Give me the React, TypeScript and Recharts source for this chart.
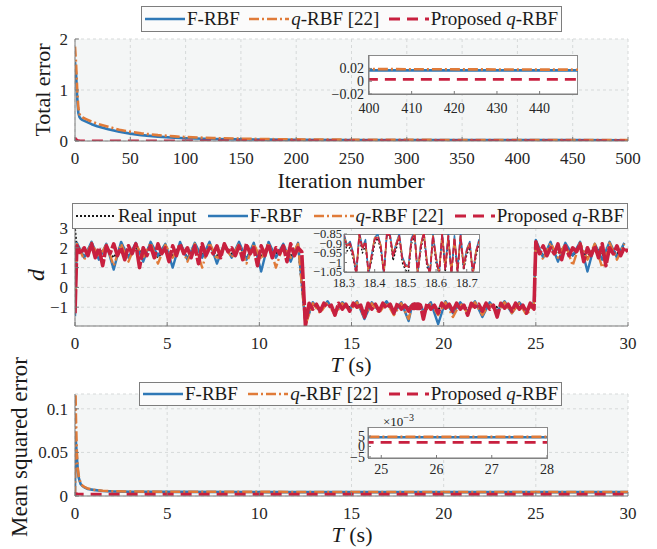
import React from "react"
import { LineChart, Line, XAxis, YAxis, CartesianGrid } from "recharts"

const SERIF = "'Liberation Serif', 'Times New Roman', Times, 'DejaVu Serif', 'Noto Serif', serif"
const AXIS = "#7a7a7a"
const BLUE = "#2f78b6"
const ORANGE = "#e07b39"
const RED = "#c8203f"
const BLACK = "#151515"

// ---- panel 1: total error vs iteration ----
const iterations = [0, 1, 2, 3, 4, 5, 7, 10, 15, 20, 30, 40, 50, 60, 75, 90, 100, 125, 150, 175, 200, 250, 300, 350, 400, 450, 500]
const errFRBF = [1.55, 1.3, 0.85, 0.55, 0.47, 0.44, 0.41, 0.38, 0.33, 0.29, 0.23, 0.18, 0.145, 0.115, 0.085, 0.065, 0.055, 0.04, 0.031, 0.026, 0.023, 0.02, 0.019, 0.018, 0.017, 0.017, 0.016]
const errQRBF = [1.85, 1.5, 1.0, 0.65, 0.53, 0.49, 0.46, 0.43, 0.38, 0.34, 0.28, 0.22, 0.18, 0.15, 0.115, 0.09, 0.078, 0.057, 0.045, 0.037, 0.031, 0.025, 0.022, 0.02, 0.019, 0.018, 0.018]
const errProposed = [0.06, 0.03, 0.015, 0.008, 0.005, 0.004, 0.003, 0.003, 0.003, 0.003, 0.003, 0.003, 0.003, 0.003, 0.003, 0.003, 0.003, 0.003, 0.003, 0.003, 0.003, 0.003, 0.003, 0.003, 0.003, 0.003, 0.003]
const iterTicks = [0, 50, 100, 150, 200, 250, 300, 350, 400, 450, 500]
const errTicks = [0, 1, 2]
const errZoomXTicks = [400, 410, 420, 430, 440]
const errZoomYTicks = [-0.02, 0, 0.02]

// ---- panel 2: estimated disturbance d ----
// value at t = 0: real input, F-RBF, q-RBF, proposed
const dAtZero = [2.95, -1.45, -1.2, -1.3]
// segments start at 0.1 s, 12.5 s and 25 s; proposed sampled every 0.2 s, the others every 0.4 s
const dProposed1 = [2.1, 1.7, 2.0, 1.6, 2.2, 1.5, 2.0, 1.1, 2.1, 1.7, 2.2, 1.6, 2.0, 1.4, 2.1, 1.7, 2.2, 1.0, 2.0, 1.6, 2.1, 1.5, 2.2, 1.7, 2.0, 1.3, 2.1, 1.6, 2.2, 1.7, 2.0, 1.5, 2.1, 1.2, 2.2, 1.6, 2.0, 1.7, 2.1, 1.5, 2.2, 1.8, 2.0, 1.6, 2.1, 1.4, 2.2, 1.7, 2.0, 1.1, 2.1, 1.6, 2.2, 1.5, 2.0, 1.7, 2.1, 1.3, 2.2, 1.6, 2.0, 1.8]
const dProposed2 = [-1.95, -0.8, -1.1, -0.85, -1.2, -0.8, -1.0, -0.9, -1.4, -0.8, -1.1, -0.85, -1.2, -0.8, -1.0, -0.9, -1.5, -0.8, -1.1, -0.85, -1.2, -0.8, -1.05, -0.85, -1.3, -0.8, -1.1, -0.9, -1.2, -0.8, -1.0, -0.85, -1.6, -0.8, -1.1, -0.9, -1.3, -0.8, -1.05, -0.85, -1.2, -0.8, -1.1, -0.9, -1.4, -0.8, -1.0, -0.85, -1.2, -0.8, -1.1, -0.9, -1.5, -0.8, -1.05, -0.85, -1.2, -0.8, -1.1, -0.9, -1.3, -0.8, -1.1]
const dProposed3 = [2.3, 1.7, 2.1, 1.6, 2.0, 1.7, 2.2, 1.4, 2.1, 1.6, 2.0, 1.8, 2.2, 1.3, 2.0, 1.6, 2.1, 1.5, 2.2, 1.1, 2.0, 1.7, 2.1, 1.6, 2.0, 1.8]
const dFRBF1 = [2.25, 1.5, 2.3, 1.4, 2.2, 0.9, 2.3, 1.5, 2.25, 1.3, 2.3, 1.6, 2.2, 1.0, 2.3, 1.4, 2.25, 1.5, 2.3, 1.2, 2.2, 1.5, 2.3, 1.4, 2.25, 0.8, 2.3, 1.5, 2.2, 1.3, 2.25]
const dFRBF2 = [-1.8, -0.75, -1.2, -0.7, -1.3, -0.75, -1.1, -0.7, -1.6, -0.75, -1.2, -0.7, -1.3, -0.75, -1.7, -0.7, -1.2, -0.75, -1.85, -0.7, -1.3, -0.75, -1.2, -0.7, -1.5, -0.75, -1.2, -0.7, -1.3, -0.75, -1.2, -0.75]
const dFRBF3 = [2.4, 1.5, 2.3, 1.3, 2.25, 1.6, 2.3, 0.8, 2.2, 1.4, 2.3, 1.5, 2.25]
const dQRBF1 = [2.2, 1.4, 2.25, 1.5, 2.15, 1.1, 2.2, 1.3, 2.2, 1.5, 2.25, 1.2, 2.15, 1.5, 2.2, 1.3, 2.2, 1.0, 2.25, 1.4, 2.15, 1.5, 2.2, 1.2, 2.2, 1.4, 2.25, 1.0, 2.15, 1.5, 2.2]
const dQRBF2 = [-1.9, -0.8, -1.3, -0.75, -1.4, -0.8, -1.2, -0.75, -1.5, -0.8, -1.3, -0.75, -1.4, -0.8, -1.6, -0.75, -1.3, -0.8, -1.4, -0.75, -1.5, -0.8, -1.3, -0.75, -1.4, -0.8, -1.3, -0.75, -1.3, -0.8, -1.4, -0.8]
const dQRBF3 = [2.3, 1.4, 2.25, 1.5, 2.2, 1.1, 2.25, 1.4, 2.2, 1.0, 2.25, 1.4, 2.2]
const dReal1 = [2.0, 1.6, 2.1, 1.7, 2.0, 1.5, 2.1, 1.6, 2.0, 1.7, 2.1, 1.5, 2.0, 1.6, 2.1, 1.5, 2.0, 1.7, 2.1, 1.6, 2.0, 1.7, 2.1, 1.5, 2.0, 1.6, 2.1, 1.7, 2.0, 1.6, 2.1]
const dReal2 = [-1.8, -0.85, -1.1, -0.8, -1.2, -0.85, -1.0, -0.8, -1.2, -0.85, -1.1, -0.8, -1.2, -0.85, -1.0, -0.8, -1.3, -0.85, -1.1, -0.8, -1.2, -0.85, -1.1, -0.8, -1.2, -0.85, -1.0, -0.8, -1.2, -0.85, -1.1, -0.8]
const dReal3 = [2.1, 1.6, 2.0, 1.7, 2.1, 1.6, 2.0, 1.5, 2.1, 1.6, 2.0, 1.7, 2.1]
// fine samples (every 0.01 s) over the zoomed window 18.30 .. 18.74 s
const fineProposed = [-0.86, -0.92, -0.90, -0.96, -1.06, -0.85, -0.93, -0.89, -1.06, -0.97, -0.88, -0.86, -0.92, -1.06, -0.84, -0.86, -0.97, -0.91, -0.86, -0.98, -1.02, -1.03, -0.88, -0.85, -1.06, -0.92, -0.84, -1.00, -1.06, -0.86, -0.98, -1.06, -0.85, -1.04, -0.86, -1.06, -0.87, -1.05, -0.86, -1.03, -0.94, -0.90, -1.06, -0.95, -0.89]
const fineFRBF = [-0.85, -0.91, -0.89, -0.95, -1.06, -0.84, -0.92, -0.88, -1.06, -0.96, -0.87, -0.85, -0.91, -1.06, -0.84, -0.85, -0.96, -0.90, -0.85, -0.97, -1.01, -1.02, -0.87, -0.84, -1.06, -0.91, -0.84, -0.99, -1.06, -0.85, -0.97, -1.06, -0.84, -1.03, -0.85, -1.06, -0.86, -1.04, -0.85, -1.02, -0.93, -0.89, -1.06, -0.94, -0.88]
const fineQRBF = [-0.86, -0.91, -0.90, -0.95, -1.06, -0.85, -0.92, -0.89, -1.06, -0.96, -0.87, -0.86, -0.91, -1.06, -0.84, -0.86, -0.96, -0.90, -0.86, -0.97, -1.02, -1.02, -0.88, -0.85, -1.06, -0.91, -0.84, -0.99, -1.06, -0.86, -0.97, -1.06, -0.85, -1.03, -0.86, -1.06, -0.87, -1.04, -0.86, -1.02, -0.93, -0.90, -1.06, -0.94, -0.89]
const fineReal = [-0.87, -0.94, -0.92, -0.98, -1.06, -0.86, -0.95, -0.91, -1.06, -0.99, -0.90, -0.87, -0.94, -1.06, -0.85, -0.87, -0.99, -0.93, -0.87, -1.00, -1.04, -1.05, -0.90, -0.86, -1.06, -0.94, -0.85, -1.02, -1.06, -0.87, -1.00, -1.06, -0.86, -1.05, -0.87, -1.06, -0.88, -1.06, -0.87, -1.04, -0.96, -0.92, -1.06, -0.97, -0.90]
const timeTicks = [0, 5, 10, 15, 20, 25, 30]
const dTicks = [-1, 0, 1, 2, 3]
const dZoomXTicks = [18.3, 18.4, 18.5, 18.6, 18.7]
const dZoomYTicks = [-1.05, -1, -0.95, -0.9, -0.85]

// ---- panel 3: mean squared error ----
const mseTime = [0, 0.02, 0.05, 0.1, 0.15, 0.2, 0.3, 0.4, 0.5, 0.7, 1, 1.5, 2, 3, 5, 10, 15, 20, 25, 26, 27, 28, 30]
const mseFRBF = [0, 0.07, 0.062, 0.045, 0.03, 0.021, 0.014, 0.0115, 0.01, 0.008, 0.007, 0.0058, 0.0053, 0.0049, 0.0047, 0.0045, 0.0044, 0.0044, 0.0044, 0.0044, 0.0044, 0.0044, 0.0044]
const mseQRBF = [0, 0.13, 0.09, 0.05, 0.032, 0.023, 0.015, 0.012, 0.0105, 0.0085, 0.0072, 0.006, 0.0055, 0.0051, 0.0049, 0.0047, 0.0046, 0.0046, 0.0046, 0.0046, 0.0046, 0.0046, 0.0046]
const mseProposed = [0, 0.003, 0.0028, 0.0025, 0.0023, 0.0022, 0.0021, 0.002, 0.002, 0.002, 0.002, 0.002, 0.002, 0.002, 0.002, 0.002, 0.002, 0.002, 0.002, 0.002, 0.002, 0.002, 0.002]
const mseTicks = [0, 0.05, 0.1]
const mseZoomXTicks = [25, 26, 27, 28]
const mseZoomYTicks = [-0.005, 0, 0.005]

type Pt = { t: number; v: number }
const pts = (xs: number[], ys: number[]): Pt[] => xs.map((t, i) => ({ t, v: ys[i] }))
const seg = (start: number, step: number, ys: number[]): Pt[] =>
  ys.map((v, i) => ({ t: Math.round((start + i * step) * 100) / 100, v }))
const ZOOM_FROM = 18.3
const ZOOM_TO = 18.74
const dSeries = (v0: number, a: number[], b: number[], c: number[], step: number, fine: number[]) => {
  const coarse = [{ t: 0, v: v0 }, ...seg(0.1, step, a), ...seg(12.5, step, b), ...seg(25, step, c)].filter(
    (p) => p.t < ZOOM_FROM || p.t > ZOOM_TO
  )
  return [...coarse, ...seg(ZOOM_FROM, 0.01, fine)].sort((p, q) => p.t - q.t)
}

const err = {
  f: pts(iterations, errFRBF),
  q: pts(iterations, errQRBF),
  p: pts(iterations, errProposed),
}
const dist = {
  r: dSeries(dAtZero[0], dReal1, dReal2, dReal3, 0.4, fineReal),
  f: dSeries(dAtZero[1], dFRBF1, dFRBF2, dFRBF3, 0.4, fineFRBF),
  q: dSeries(dAtZero[2], dQRBF1, dQRBF2, dQRBF3, 0.4, fineQRBF),
  p: dSeries(dAtZero[3], dProposed1, dProposed2, dProposed3, 0.2, fineProposed),
}
const mse = {
  f: pts(mseTime, mseFRBF),
  q: pts(mseTime, mseQRBF),
  p: pts(mseTime, mseProposed),
}

const STYLE = {
  real: { color: BLACK, dash: "2 2", width: 2 },
  f: { color: BLUE, dash: undefined, width: 2.6 },
  q: { color: ORANGE, dash: "10 3 2 3", width: 2.6 },
  p: { color: RED, dash: "11 7", width: 2.8 },
}
const LABEL_F = "F-RBF"
const LABEL_REAL = "Real input"

const minus = (v: number) => String(v).replace("-", "\u2212")

type Series = { data: Pt[]; color: string; dash?: string; width: number }
type PlotProps = {
  left: number
  top: number
  width: number
  height: number
  mt: number
  mr: number
  yWidth: number
  plotH: number
  xDomain: [number, number]
  xTicks: number[]
  yDomain: [number, number]
  yTicks: number[]
  series: Series[]
  font: number
  tick: number
  xGap: number
  yGap: number
  grid?: boolean
  yFormat?: (v: number) => string
}

function Plot(p: PlotProps) {
  const xH = p.height - p.mt - p.plotH
  const tickStyle = { fontSize: p.font, fill: "#262626", fontFamily: SERIF }
  return (
    <div style={{ position: "absolute", left: p.left, top: p.top }}>
      <LineChart width={p.width} height={p.height} margin={{ top: p.mt, right: p.mr, bottom: 0, left: 0 }}>
        {p.grid && <CartesianGrid fill="#f4f6f6" fillOpacity={1} stroke="#d6d9d9" strokeDasharray="3 3" />}
        <XAxis
          type="number"
          dataKey="t"
          domain={p.xDomain}
          ticks={p.xTicks}
          allowDataOverflow
          interval={0}
          height={xH}
          stroke={AXIS}
          tickSize={-p.tick}
          tickMargin={p.xGap}
          tick={tickStyle}
          tickFormatter={minus}
        />
        <YAxis
          type="number"
          domain={p.yDomain}
          ticks={p.yTicks}
          allowDataOverflow
          interval={0}
          width={p.yWidth}
          stroke={AXIS}
          tickSize={-p.tick}
          tickMargin={p.yGap}
          tick={tickStyle}
          tickFormatter={p.yFormat ?? minus}
        />
        {p.series.map((s, i) => (
          <Line
            key={i}
            data={s.data}
            dataKey="v"
            type="linear"
            stroke={s.color}
            strokeWidth={s.width}
            strokeDasharray={s.dash}
            strokeLinejoin="round"
            dot={false}
            activeDot={false}
            isAnimationActive={false}
          />
        ))}
      </LineChart>
    </div>
  )
}

function Sample({ color, dash, width }: { color: string; dash?: string; width: number }) {
  return (
    <svg width={40} height={10} style={{ display: "block" }}>
      <line x1={0} y1={5} x2={40} y2={5} stroke={color} strokeWidth={width} strokeDasharray={dash} />
    </svg>
  )
}

type Item = { label: React.ReactNode; color: string; dash?: string; width: number }
function LegendBox({ left, top, width, height, items }: { left: number; top: number; width: number; height: number; items: Item[] }) {
  return (
    <div
      style={{
        position: "absolute",
        left,
        top,
        width,
        height,
        boxSizing: "border-box",
        border: "1px solid #7d7d7d",
        background: "#fbfbfb",
        display: "flex",
        alignItems: "center",
        justifyContent: "space-between",
        padding: "0 3px",
        fontFamily: SERIF,
        fontSize: 19,
        color: "#1a1a1a",
        whiteSpace: "nowrap",
      }}
    >
      {items.map((it, i) => (
        <div key={i} style={{ display: "flex", alignItems: "center" }}>
          <Sample color={it.color} dash={it.dash} width={it.width} />
          <span style={{ marginLeft: 2 }}>{it.label}</span>
        </div>
      ))}
    </div>
  )
}

function Title({ x, y, rotate, size = 22, children }: { x: number; y: number; rotate?: boolean; size?: number; children: React.ReactNode }) {
  return (
    <div
      style={{
        position: "absolute",
        left: x,
        top: y,
        transform: `translate(-50%, -50%)${rotate ? " rotate(-90deg)" : ""}`,
        fontFamily: SERIF,
        fontSize: size,
        color: "#1a1a1a",
        whiteSpace: "nowrap",
        lineHeight: 1,
      }}
    >
      {children}
    </div>
  )
}

function InsetBox({ left, top, width, height }: { left: number; top: number; width: number; height: number }) {
  return (
    <div
      style={{
        position: "absolute",
        left,
        top,
        width,
        height,
        boxSizing: "border-box",
        border: "1px solid #8a8a8a",
        background: "#fff",
      }}
    />
  )
}

const qLabel = (
  <>
    <i>q</i>-RBF [22]
  </>
)
const propLabel = (
  <>
    Proposed <i>q</i>-RBF
  </>
)
const threeItems: Item[] = [
  { label: LABEL_F, ...STYLE.f },
  { label: qLabel, ...STYLE.q },
  { label: propLabel, ...STYLE.p },
]
const fourItems: Item[] = [{ label: LABEL_REAL, ...STYLE.real }, ...threeItems]

const s = (data: Pt[], st: { color: string; dash?: string; width: number }): Series => ({ data, ...st })

export default function App() {
  const errSeries = [s(err.f, STYLE.f), s(err.q, STYLE.q), s(err.p, STYLE.p)]
  const dSer = [
    s(dist.r, STYLE.real),
    s(dist.f, { ...STYLE.f, width: 2.4 }),
    s(dist.q, { ...STYLE.q, width: 2.4 }),
    s(dist.p, { ...STYLE.p, width: 3.6, dash: "24 2" }),
  ]
  const dFine = [
    s(dist.r, { ...STYLE.real, width: 1.4 }),
    s(dist.f, { ...STYLE.f, width: 1.6 }),
    s(dist.q, { ...STYLE.q, width: 1.6 }),
    s(dist.p, { ...STYLE.p, width: 1.8, dash: "6 3" }),
  ]
  const mseSeries = [s(mse.f, STYLE.f), s(mse.q, STYLE.q), s(mse.p, STYLE.p)]

  return (
    <div style={{ position: "absolute", left: 0, top: 0, width: 657, height: 549, background: "#fff", overflow: "hidden" }}>
      {/* panel 1 */}
      <Plot left={0} top={0} width={657} height={175} mt={39} mr={29} yWidth={75} plotH={102}
        xDomain={[0, 500]} xTicks={iterTicks} yDomain={[0, 2]} yTicks={errTicks}
        series={errSeries} font={17} tick={4} xGap={15} yGap={11} grid />
      <InsetBox left={368} top={55} width={210} height={40} />
      <Plot left={300} top={45} width={300} height={80} mt={10} mr={22} yWidth={69} plotH={39}
        xDomain={[400, 449]} xTicks={errZoomXTicks} yDomain={[-0.02, 0.041]} yTicks={errZoomYTicks}
        series={errSeries} font={14} tick={3} xGap={12} yGap={8} />
      <LegendBox left={141} top={6} width={421} height={26} items={threeItems} />
      <Title x={43} y={90} rotate>Total error</Title>
      <Title x={351} y={181}>Iteration number</Title>

      {/* panel 2 */}
      <Plot left={0} top={190} width={657} height={175} mt={38} mr={29} yWidth={75} plotH={98}
        xDomain={[0, 30]} xTicks={timeTicks} yDomain={[-1.95, 3]} yTicks={dTicks}
        series={dSer} font={17} tick={4} xGap={15} yGap={11} grid />
      <InsetBox left={344} top={234} width={136} height={39} />
      <Plot left={270} top={225} width={230} height={75} mt={9} mr={21} yWidth={74} plotH={38}
        xDomain={[ZOOM_FROM, ZOOM_TO]} xTicks={dZoomXTicks} yDomain={[-1.05, -0.85]} yTicks={dZoomYTicks}
        series={dFine} font={12.5} tick={3} xGap={9} yGap={5} />
      <LegendBox left={72} top={203} width={556} height={26} items={fourItems} />
      <Title x={36} y={275} rotate size={24}><i>d</i></Title>
      <Title x={351} y={365}><i>T</i> (s)</Title>

      {/* panel 3 */}
      <Plot left={0} top={370} width={657} height={179} mt={24} mr={29} yWidth={75} plotH={102}
        xDomain={[0, 30]} xTicks={timeTicks} yDomain={[0, 0.117]} yTicks={mseTicks}
        series={mseSeries} font={17} tick={4} xGap={15} yGap={11} grid />
      <InsetBox left={368} top={427} width={180} height={32} />
      <Plot left={300} top={415} width={270} height={70} mt={12} mr={23} yWidth={68} plotH={31}
        xDomain={[24.76, 28]} xTicks={mseZoomXTicks} yDomain={[-0.0055, 0.0093]} yTicks={mseZoomYTicks}
        series={mseSeries} font={14} tick={3} xGap={9} yGap={6}
        yFormat={(v) => minus(Math.round(v * 1000))} />
      <div style={{ position: "absolute", left: 383, top: 412, fontFamily: SERIF, fontSize: 13, color: "#1a1a1a", whiteSpace: "nowrap" }}>
        ×10<sup style={{ fontSize: 10 }}>−3</sup>
      </div>
      <LegendBox left={139} top={382} width={423} height={24} items={threeItems} />
      <Title x={19} y={447} rotate size={23}>Mean squared error</Title>
      <Title x={352} y={535}><i>T</i> (s)</Title>
    </div>
  )
}
